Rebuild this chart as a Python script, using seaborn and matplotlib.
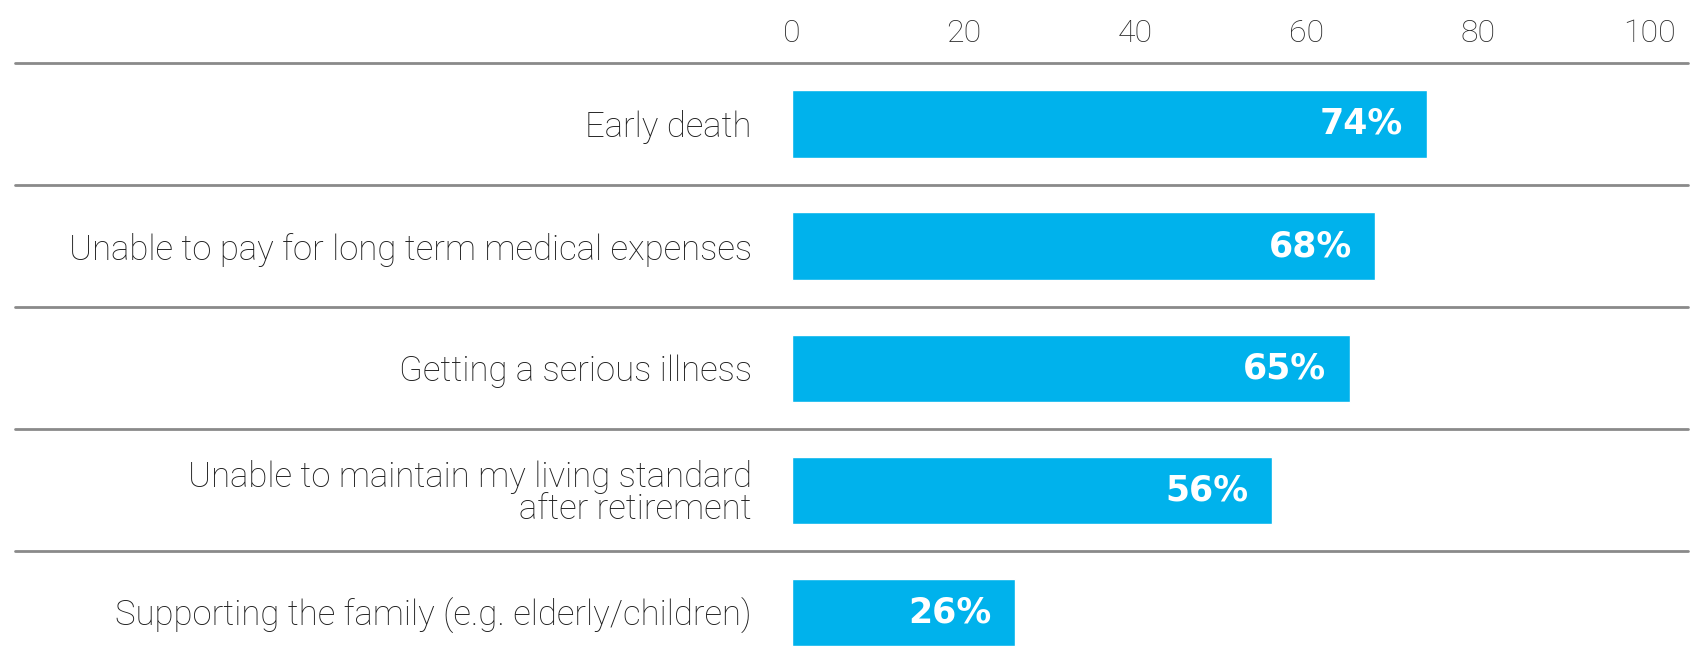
import matplotlib
matplotlib.use("Agg")
import matplotlib.pyplot as plt
import seaborn as sns
import pandas as pd

categories = [
    "Early death",
    "Unable to pay for long term medical expenses",
    "Getting a serious illness",
    "Unable to maintain my living standard\nafter retirement",
    "Supporting the family (e.g. elderly/children)",
]
values = [74, 68, 65, 56, 26]
value_labels = ["74%", "68%", "65%", "56%", "26%"]
xticks = [0, 20, 40, 60, 80, 100]

sns.set_theme(style="white")
plt.rcParams["font.family"] = ["Roboto", "Liberation Sans", "DejaVu Sans"]

df = pd.DataFrame({"category": categories, "value": values})

fig = plt.figure(figsize=(17.08, 6.66), dpi=100)
ax = fig.add_axes([0.4637, 0.0075, 0.5023, 0.898])

bar_color = "#00B2EC"
sns.barplot(data=df, x="value", y="category", color=bar_color, saturation=1,
            width=0.55, orient="h", ax=ax)

ax.set_xlim(0, 100)
ax.set_ylim(4.4, -0.5)
ax.set_xticks(xticks)
ax.set_xticklabels([str(t) for t in xticks])
ax.xaxis.tick_top()
ax.tick_params(axis="x", length=0, pad=11, labelsize=23, labelcolor="#2a2a2a")
ax.tick_params(axis="y", length=0, pad=29, labelsize=25, labelcolor="#1e1e1e")
for t in ax.get_xticklabels() + ax.get_yticklabels():
    t.set_fontweight("light")
for t in ax.get_yticklabels():
    t.set_linespacing(0.95)
ax.set_xlabel("")
ax.set_ylabel("")
for s in ax.spines.values():
    s.set_visible(False)

# separator lines
for i in range(len(categories)):
    ax.axhline(i - 0.5, xmin=-0.906, xmax=1.044, color="#8a8a8a", lw=2,
               clip_on=False, zorder=0)

for i, (v, lab) in enumerate(zip(values, value_labels)):
    ax.annotate(lab, xy=(v, i), xytext=(-17, 0), textcoords="offset points",
                ha="right", va="center", color="white", fontsize=25,
                fontweight="bold", family=["DejaVu Sans"])

fig.savefig("out.png", dpi=100)
